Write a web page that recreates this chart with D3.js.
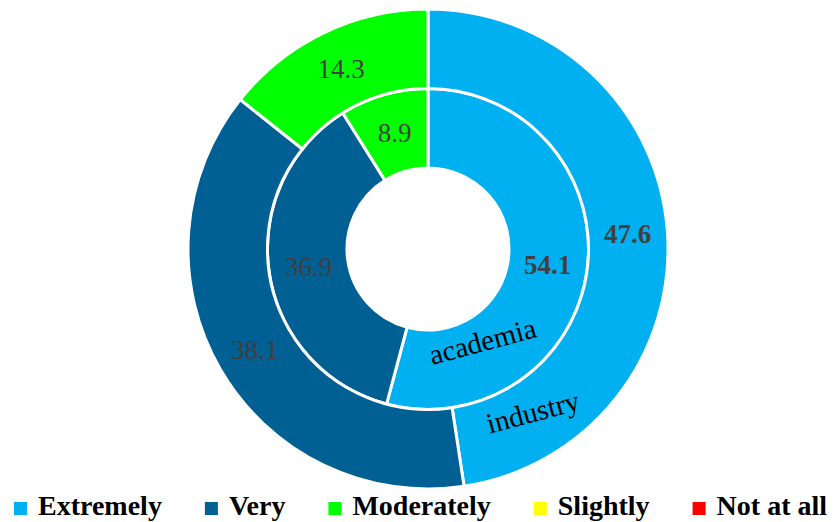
<!DOCTYPE html>
<html>
<head>
<meta charset="utf-8">
<script src="https://cdn.jsdelivr.net/npm/d3@7"></script>
<style>
  html, body { margin: 0; padding: 0; background: #fff; }
  svg { display: block; }
</style>
</head>
<body>
<svg id="chart" width="835" height="522"></svg>
<script>
// Response categories (legend order, also slice order clockwise from 12 o'clock)
const categories = ["Extremely", "Very", "Moderately", "Slightly", "Not at all"];
const categoryColors = ["#00B0F0", "#005F93", "#00FF00", "#FFFF00", "#FF0000"];

// Percentages per group
const academiaValues = [54.1, 36.9, 8.9, 0, 0];
const industryValues = [47.6, 38.1, 14.3, 0, 0];

// Ring names, inner to outer
const ringNames = ["academia", "industry"];

const svg = d3.select("#chart");
const cx = 428, cy = 249;

const color = d3.scaleOrdinal().domain(categories).range(categoryColors);

// Radial bands: inner ring = academia, outer ring = industry
const radius = d3.scaleLinear().domain([0, 2]).range([81, 240]);

const pie = d3.pie().sort(null).value(d => d.value);

const rings = [
  { name: ringNames[0], values: academiaValues, band: 0 },
  { name: ringNames[1], values: industryValues, band: 1 }
];

const g = svg.append("g").attr("transform", `translate(${cx},${cy})`);

rings.forEach(ring => {
  const data = categories.map((c, i) => ({ category: c, value: ring.values[i] }));
  const arcs = pie(data);
  const r0 = radius(ring.band), r1 = radius(ring.band + 1);
  const arc = d3.arc().innerRadius(r0).outerRadius(r1);

  const rg = g.append("g").attr("class", "ring-" + ring.name);

  rg.selectAll("path")
    .data(arcs.filter(a => a.data.value > 0))
    .join("path")
    .attr("d", arc)
    .attr("fill", a => color(a.data.category))
    .attr("stroke", "#fff")
    .attr("stroke-width", 3)
    .attr("stroke-linejoin", "miter");

  // Value labels at slice centroids
  rg.selectAll("text.value")
    .data(arcs.filter(a => a.data.value > 0))
    .join("text")
    .attr("class", "value")
    .attr("transform", a => `translate(${arc.centroid(a)})`)
    .attr("text-anchor", "middle")
    .attr("dy", "0.35em")
    .attr("font-family", "'Liberation Serif', 'Times New Roman', serif")
    .attr("font-size", 27)
    .attr("font-weight", a => a.data.category === "Extremely" ? "bold" : "normal")
    .attr("fill", "#404040")
    .text(a => a.data.value.toFixed(1));
});

// Ring name labels, set inside the "Extremely" slices near the bottom
const ringLabelAngle = [150.7, 148.1];   // degrees clockwise from 12 o'clock
const ringLabelOffset = [-4, 3];         // radial nudge from the band centre
rings.forEach((ring, i) => {
  const rMid = (radius(ring.band) + radius(ring.band + 1)) / 2 + ringLabelOffset[i];
  const a = ringLabelAngle[i] * Math.PI / 180;
  const x = rMid * Math.sin(a), y = -rMid * Math.cos(a);
  g.append("text")
    .attr("transform", `translate(${x},${y}) rotate(-15)`)
    .attr("text-anchor", "middle")
    .attr("font-family", "'Liberation Serif', 'Times New Roman', serif")
    .attr("font-size", 29)
    .attr("fill", "#000")
    .text(ring.name);
});

// Legend along the bottom edge
const legend = svg.append("g").attr("class", "legend");
let lx = 14;
categories.forEach(c => {
  const item = legend.append("g");
  item.append("rect")
    .attr("x", lx).attr("y", 502)
    .attr("width", 13).attr("height", 13)
    .attr("fill", color(c));
  const t = item.append("text")
    .attr("x", lx + 24).attr("y", 515)
    .attr("font-family", "'Liberation Serif', 'Times New Roman', serif")
    .attr("font-size", 28)
    .attr("font-weight", "bold")
    .attr("fill", "#000")
    .text(c);
  lx += 24 + t.node().getComputedTextLength() + 43;
});
</script>
</body>
</html>
